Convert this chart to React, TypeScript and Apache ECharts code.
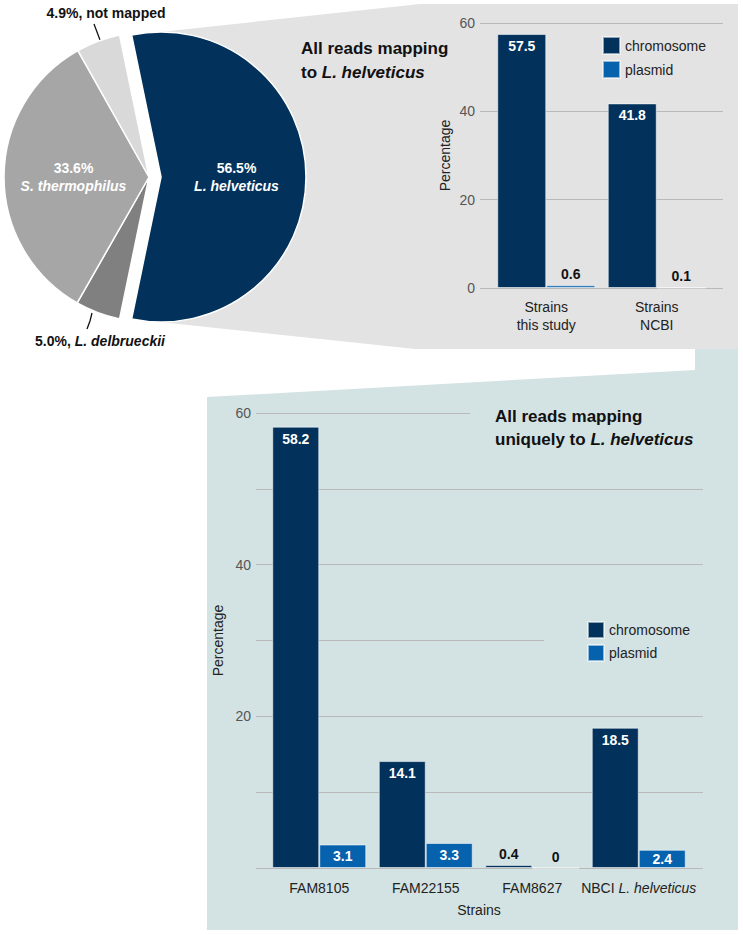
import React, { useEffect, useRef } from 'react';
import * as echarts from 'echarts';

// ---------- data ----------
const pieNames = ['L. helveticus', 'L. delbrueckii', 'S. thermophilus', 'not mapped'];
const pieValues = [56.5, 5.0, 33.6, 4.9];
const pieItalic = [true, true, true, false];
const pieInside = [true, false, true, false];
const pieColors = ['#02325b', '#808080', '#a6a6a6', '#d9d9d9'];

const topCategories = ['Strains\nthis study', 'Strains\nNCBI'];
const topChromosome = [57.5, 41.8];
const topPlasmid = [0.6, 0.1];

const bottomCategories = ['FAM8105', 'FAM22155', 'FAM8627', 'NBCI L. helveticus'];
const bottomChromosome = [58.2, 14.1, 0.4, 18.5];
const bottomPlasmid = [3.1, 3.3, 0, 2.4];

const yMax = 60;
const topInterval = 20;
const bottomInterval = 10;
const bottomLabelled = [20, 40, 60];

const seriesNames = ['chromosome', 'plasmid'];

// ---------- styles ----------
const FONT = 'Liberation Sans';
const NAVY = '#02325b';
const BLUE = '#0762ae';
const GRAY_PANEL = '#e3e3e3';
const TEAL_PANEL = '#d3e3e3';
const GRID_LINE = '#b9b9b9';

const PIE_CX = 149;
const PIE_CY = 177;
const PIE_R = 145;
const PIE_OFF = 12;

function pieLabel(i: number) {
  const v = pieValues[i].toFixed(1) + '%';
  const name = pieNames[i];
  const nameStyle = pieItalic[i] ? 'i' : 'v';
  if (pieInside[i]) {
    return {
      show: true,
      position: 'inside',
      formatter: `{v|${v}}\n{${nameStyle}|${name}}`,
      rich: {
        v: { color: '#fff', fontWeight: 'bold', fontSize: 14, lineHeight: 18, fontFamily: FONT },
        i: { color: '#fff', fontWeight: 'bold', fontStyle: 'italic', fontSize: 14, lineHeight: 18, fontFamily: FONT },
      },
    };
  }
  return {
    show: true,
    position: 'outside',
    formatter: `{v|${v}, }{${nameStyle}|${name}}`,
    rich: {
      v: { color: '#111', fontWeight: 'bold', fontSize: 14, fontFamily: FONT },
      i: { color: '#111', fontWeight: 'bold', fontStyle: 'italic', fontSize: 14, fontFamily: FONT },
    },
  };
}

function barItems(values: number[], bigPos: string) {
  return values.map((v) => ({
    value: v,
    label:
      v < 2
        ? { position: 'top', distance: 4, color: '#111' }
        : { position: bigPos, distance: 5, color: '#fff' },
  }));
}

function barSeries(name: string, values: number[], axis: number, color: string, width: number, bigPos: string) {
  return {
    type: 'bar',
    name,
    xAxisIndex: axis,
    yAxisIndex: axis,
    barWidth: width,
    barGap: '0%',
    itemStyle: { color, borderColor: 'rgba(255,255,255,0.55)', borderWidth: 1 },
    label: { show: true, fontSize: 14, fontWeight: 'bold', fontFamily: FONT },
    emphasis: { disabled: true },
    data: barItems(values, bigPos),
  };
}

function buildOption() {
  const half = (pieValues[0] / 100) * Math.PI;
  const tipX = PIE_CX + PIE_OFF;
  const sx = tipX + PIE_R * Math.cos(half);
  const sy = PIE_CY - PIE_R * Math.sin(half);
  const ey = PIE_CY + PIE_R * Math.sin(half);

  return {
    animation: false,
    textStyle: { fontFamily: FONT },
    graphic: [
      {
        type: 'polygon',
        z: -10,
        silent: true,
        shape: {
          points: [
            [tipX, PIE_CY],
            [sx, sy],
            [420, 4],
            [738, 4],
            [738, 349],
            [415, 349],
            [sx, ey],
          ],
        },
        style: { fill: GRAY_PANEL },
      },
      {
        type: 'polygon',
        z: -10,
        silent: true,
        shape: {
          points: [
            [695, 349],
            [738, 349],
            [738, 930],
            [207, 930],
            [207, 397],
            [695, 370],
          ],
        },
        style: { fill: TEAL_PANEL },
      },
    ],
    title: [
      {
        text: 'All reads mapping\nto {i|L. helveticus}',
        left: 301,
        top: 36,
        padding: 0,
        textStyle: {
          fontFamily: FONT,
          fontSize: 17,
          fontWeight: 'bold',
          color: '#111',
          lineHeight: 24,
          rich: { i: { fontFamily: FONT, fontSize: 17, fontWeight: 'bold', fontStyle: 'italic', color: '#111', lineHeight: 24 } },
        },
      },
      {
        text: 'All reads mapping\nuniquely to {i|L. helveticus}',
        left: 470,
        top: 400,
        padding: [5, 20, 5, 25],
        backgroundColor: TEAL_PANEL,
        textStyle: {
          fontFamily: FONT,
          fontSize: 17,
          fontWeight: 'bold',
          color: '#111',
          lineHeight: 23,
          rich: { i: { fontFamily: FONT, fontSize: 17, fontWeight: 'bold', fontStyle: 'italic', color: '#111', lineHeight: 23 } },
        },
      },
    ],
    legend: [
      {
        data: seriesNames,
        orient: 'vertical',
        left: 602,
        top: 36,
        padding: 0,
        itemWidth: 17,
        itemHeight: 17,
        itemGap: 5,
        icon: 'rect',
        selectedMode: false,
        textStyle: { fontFamily: FONT, fontSize: 14, color: '#222' },
      },
      {
        data: seriesNames,
        orient: 'vertical',
        left: 544,
        top: 616,
        padding: [5, 25, 5, 43],
        backgroundColor: TEAL_PANEL,
        itemWidth: 16,
        itemHeight: 16,
        itemGap: 5,
        icon: 'rect',
        selectedMode: false,
        textStyle: { fontFamily: FONT, fontSize: 14, color: '#222' },
      },
    ],
    grid: [
      { left: 480, right: 20, top: 23, bottom: 647 },
      { left: 491, right: 31, top: 23, bottom: 647 },
      { left: 256, right: 40, top: 413, bottom: 67 },
      { left: 266, right: 51, top: 413, bottom: 67 },
    ],
    xAxis: [
      { gridIndex: 0, type: 'value', show: false },
      {
        gridIndex: 1,
        type: 'category',
        data: topCategories,
        axisLine: { show: false },
        axisTick: { show: false },
        axisLabel: { interval: 0, margin: 10, fontSize: 14, lineHeight: 18, color: '#222', fontFamily: FONT },
      },
      { gridIndex: 2, type: 'value', show: false },
      {
        gridIndex: 3,
        type: 'category',
        data: bottomCategories,
        axisLine: { show: false },
        axisTick: { show: false },
        name: 'Strains',
        nameLocation: 'middle',
        nameGap: 35,
        nameTextStyle: { fontSize: 14, color: '#222', fontFamily: FONT },
        axisLabel: {
          interval: 0,
          margin: 13,
          fontSize: 14,
          color: '#222',
          fontFamily: FONT,
          formatter: (v: string) => {
            const k = v.indexOf('L. ');
            return k > 0 ? `{n|${v.slice(0, k)}}{i|${v.slice(k)}}` : v;
          },
          rich: {
            n: { fontSize: 14, color: '#222', fontFamily: FONT },
            i: { fontSize: 14, color: '#222', fontStyle: 'italic', fontFamily: FONT },
          },
        },
      },
    ],
    yAxis: [
      {
        gridIndex: 0,
        type: 'value',
        min: 0,
        max: yMax,
        interval: topInterval,
        axisLine: { show: false },
        axisTick: { show: false },
        axisLabel: { margin: 5, fontSize: 14, color: '#555', fontFamily: FONT },
        splitLine: { lineStyle: { color: GRID_LINE, width: 1.2 } },
        name: 'Percentage',
        nameLocation: 'middle',
        nameGap: 28,
        nameTextStyle: { fontSize: 14, color: '#222', fontFamily: FONT },
      },
      { gridIndex: 1, type: 'value', min: 0, max: yMax, show: false, splitLine: { show: false } },
      {
        gridIndex: 2,
        type: 'value',
        min: 0,
        max: yMax,
        interval: bottomInterval,
        axisLine: { show: false },
        axisTick: { show: false },
        axisLabel: {
          margin: 5,
          fontSize: 14,
          color: '#555',
          fontFamily: FONT,
          formatter: (v: number) => (bottomLabelled.indexOf(v) >= 0 ? String(v) : ''),
        },
        splitLine: { lineStyle: { color: GRID_LINE, width: 1.2 } },
        name: 'Percentage',
        nameLocation: 'middle',
        nameGap: 24,
        nameTextStyle: { fontSize: 14, color: '#222', fontFamily: FONT },
      },
      { gridIndex: 3, type: 'value', min: 0, max: yMax, show: false, splitLine: { show: false } },
    ],
    series: [
      {
        type: 'pie',
        center: [PIE_CX, PIE_CY],
        radius: PIE_R,
        startAngle: (pieValues[0] / 100) * 180,
        clockwise: true,
        selectedMode: 'single',
        selectedOffset: PIE_OFF,
        avoidLabelOverlap: false,
        emphasis: { disabled: true },
        itemStyle: { borderColor: '#ffffff', borderWidth: 1.5 },
        select: { itemStyle: { borderColor: '#ffffff', borderWidth: 1.5 } },
        labelLayout: (p: any) => {
          if (p.dataIndex === 3) {
            return { x: 106, y: 13, align: 'center', verticalAlign: 'middle', labelLinePoints: [[100, 40], [97, 32], [94, 24]] };
          }
          if (p.dataIndex === 1) {
            return { x: 100, y: 341, align: 'center', verticalAlign: 'middle', labelLinePoints: [[92, 313], [90, 321], [87, 329]] };
          }
          return {};
        },
        data: pieNames.map((name, i) => ({
          name,
          value: pieValues[i],
          selected: i === 0,
          itemStyle: { color: pieColors[i] },
          select: { itemStyle: { color: pieColors[i] } },
          label: pieLabel(i),
          labelLine: pieInside[i]
            ? { show: false }
            : { show: true, length: 10, length2: 0, lineStyle: { color: '#111', width: 1.3 } },
        })),
      },
      barSeries(seriesNames[0], topChromosome, 1, NAVY, 49, 'insideTop'),
      barSeries(seriesNames[1], topPlasmid, 1, BLUE, 49, 'inside'),
      barSeries(seriesNames[0], bottomChromosome, 3, NAVY, 47, 'insideTop'),
      barSeries(seriesNames[1], bottomPlasmid, 3, BLUE, 47, 'inside'),
    ],
  };
}

export default function App() {
  const ref = useRef<HTMLDivElement>(null);
  useEffect(() => {
    if (!ref.current) return;
    const chart = echarts.init(ref.current, null, { renderer: 'svg' });
    chart.setOption(buildOption() as any);
    return () => chart.dispose();
  }, []);
  return (
    <div
      ref={ref}
      style={{ position: 'fixed', left: 0, top: 0, width: 743, height: 935, background: '#ffffff' }}
    />
  );
}
